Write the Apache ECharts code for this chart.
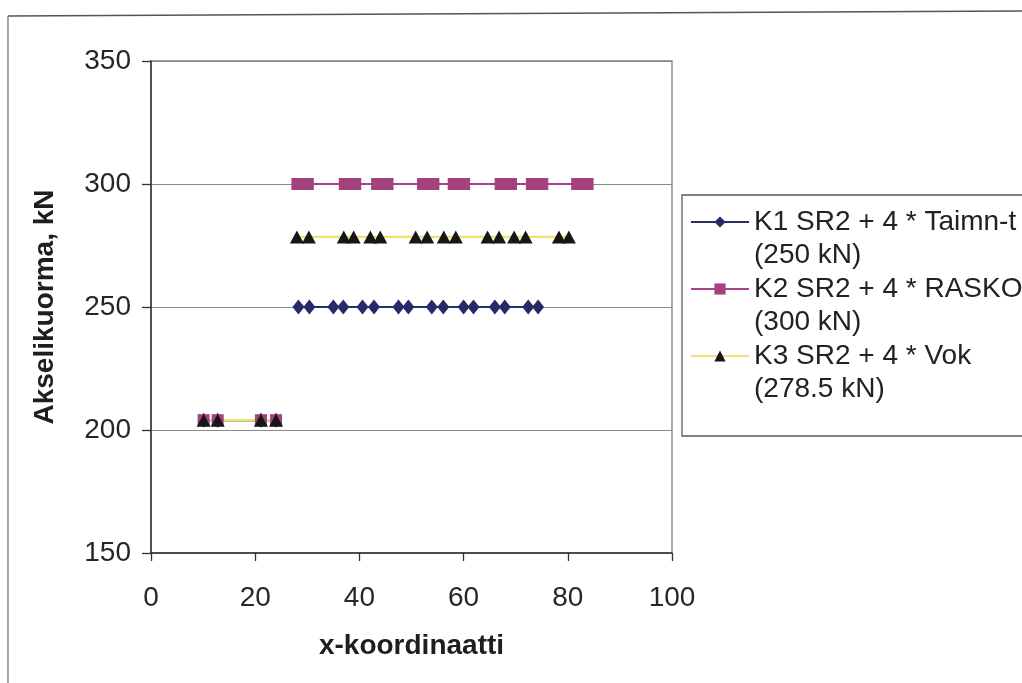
<!DOCTYPE html>
<html>
<head>
<meta charset="utf-8">
<script src="https://cdn.jsdelivr.net/npm/echarts@6/dist/echarts.min.js"></script>
<style>
  html, body { margin: 0; padding: 0; background: #ffffff; }
  #chart { width: 1022px; height: 683px; }
</style>
</head>
<body>
<div id="chart"></div>
<script>
// Axle positions along the bridge (x-koordinaatti) and axle loads (kN)
const sr2X = [10.1, 12.8, 21.1, 24.0];
const sr2Load = 204;

const k1X = [28.3, 30.4, 35.0, 36.9, 40.6, 42.8, 47.5, 49.4, 53.9, 56.1, 60.0, 61.9, 66.0, 67.9, 72.4, 74.3];
const k1Load = 250;

const k2X = [28.1, 30.1, 37.2, 39.2, 43.4, 45.4, 52.2, 54.2, 58.1, 60.1, 67.1, 69.1, 73.1, 75.1, 81.8, 83.8];
const k2Load = 300;

const k3X = [28.0, 30.3, 37.0, 38.9, 42.1, 44.0, 50.8, 53.0, 56.2, 58.5, 64.6, 66.8, 69.7, 71.9, 78.3, 80.2];
const k3Load = 278.5;

const seriesNames = [
  'K1 SR2 + 4 * Taimn-t\n(250 kN)',
  'K2 SR2 + 4 * RASKO\n(300 kN)',
  'K3 SR2 + 4 * Vok\n(278.5 kN)'
];

const xTicks = [0, 20, 40, 60, 80, 100];
const yTicks = [150, 200, 250, 300, 350];

const FONT = '"Liberation Sans", Arial, sans-serif';

// leading SR2 truck, a gap in the line, then the four-vehicle column
function buildRun(xs, load) {
  const pts = sr2X.map(x => [x, sr2Load]);
  pts.push(['-', '-']);
  xs.forEach(x => pts.push([x, load]));
  return pts;
}

const chart = echarts.init(document.getElementById('chart'), null, { renderer: 'canvas' });

chart.setOption({
  backgroundColor: '#ffffff',
  animation: false,
  graphic: [
    { type: 'line', shape: { x1: 8, y1: 16, x2: 1022, y2: 11 }, style: { stroke: '#555', lineWidth: 1.3 }, silent: true },
    { type: 'line', shape: { x1: 8, y1: 16, x2: 8, y2: 683 }, style: { stroke: '#777', lineWidth: 1.3 }, silent: true }
  ],
  grid: {
    left: 151, top: 61, right: 350, bottom: 130,
    show: true, borderColor: '#7d7d7d', borderWidth: 1.3, backgroundColor: 'transparent'
  },
  legend: {
    orient: 'vertical',
    left: 682, top: 195,
    padding: [13, 60, 33, 8],
    itemWidth: 58, itemHeight: 14, itemGap: 6,
    borderColor: '#5a5a5a', borderWidth: 1.3,
    backgroundColor: 'transparent',
    selectedMode: false,
    data: seriesNames,
    // first text line sits level with the symbol, the second one below it
    formatter: name => name.split('\n').map(s => '{t|' + s + '}').join('\n'),
    textStyle: {
      padding: [33, 0, 0, 0],
      rich: {
        t: { fontFamily: FONT, fontSize: 28, color: '#222', lineHeight: 33 }
      }
    }
  },
  xAxis: {
    type: 'value',
    min: xTicks[0], max: xTicks[xTicks.length - 1], interval: 20,
    name: 'x-koordinaatti',
    nameLocation: 'middle', nameGap: 79,
    nameTextStyle: { fontFamily: FONT, fontSize: 28, fontWeight: 'bold', color: '#1e1e1e' },
    axisLine: { show: true, onZero: false, lineStyle: { color: '#333', width: 1.5 } },
    axisTick: { show: true, inside: false, length: 8, lineStyle: { color: '#333', width: 1.3 } },
    axisLabel: { fontFamily: FONT, fontSize: 28, color: '#262626', margin: 31 },
    splitLine: { show: false }
  },
  yAxis: {
    type: 'value',
    min: yTicks[0], max: yTicks[yTicks.length - 1], interval: 50,
    name: 'Akselikuorma, kN',
    nameLocation: 'middle', nameGap: 92,
    nameTextStyle: { fontFamily: FONT, fontSize: 28, fontWeight: 'bold', color: '#1e1e1e' },
    axisLine: { show: true, onZero: false, lineStyle: { color: '#333', width: 1.5 } },
    axisTick: { show: true, inside: false, length: 9, lineStyle: { color: '#333', width: 1.3 } },
    axisLabel: { fontFamily: FONT, fontSize: 28, color: '#262626', margin: 20 },
    splitLine: { show: true, lineStyle: { color: '#8a8a8a', width: 1.2 } }
  },
  series: [
    {
      name: seriesNames[0],
      type: 'line',
      data: buildRun(k1X, k1Load),
      symbol: 'diamond', symbolSize: [12, 15],
      connectNulls: false,
      lineStyle: { color: '#2c2e6c', width: 2.2 },
      itemStyle: { color: '#272a68' }
    },
    {
      name: seriesNames[1],
      type: 'line',
      data: buildRun(k2X, k2Load),
      symbol: 'rect', symbolSize: [12, 12],
      connectNulls: false,
      lineStyle: { color: '#a64384', width: 2.2 },
      itemStyle: { color: '#a3427f' }
    },
    {
      name: seriesNames[2],
      type: 'line',
      data: buildRun(k3X, k3Load),
      symbol: 'triangle', symbolSize: [14, 13],
      connectNulls: false,
      lineStyle: { color: '#eee36c', width: 2.2 },
      itemStyle: { color: '#161616' }
    }
  ]
});
</script>
</body>
</html>
